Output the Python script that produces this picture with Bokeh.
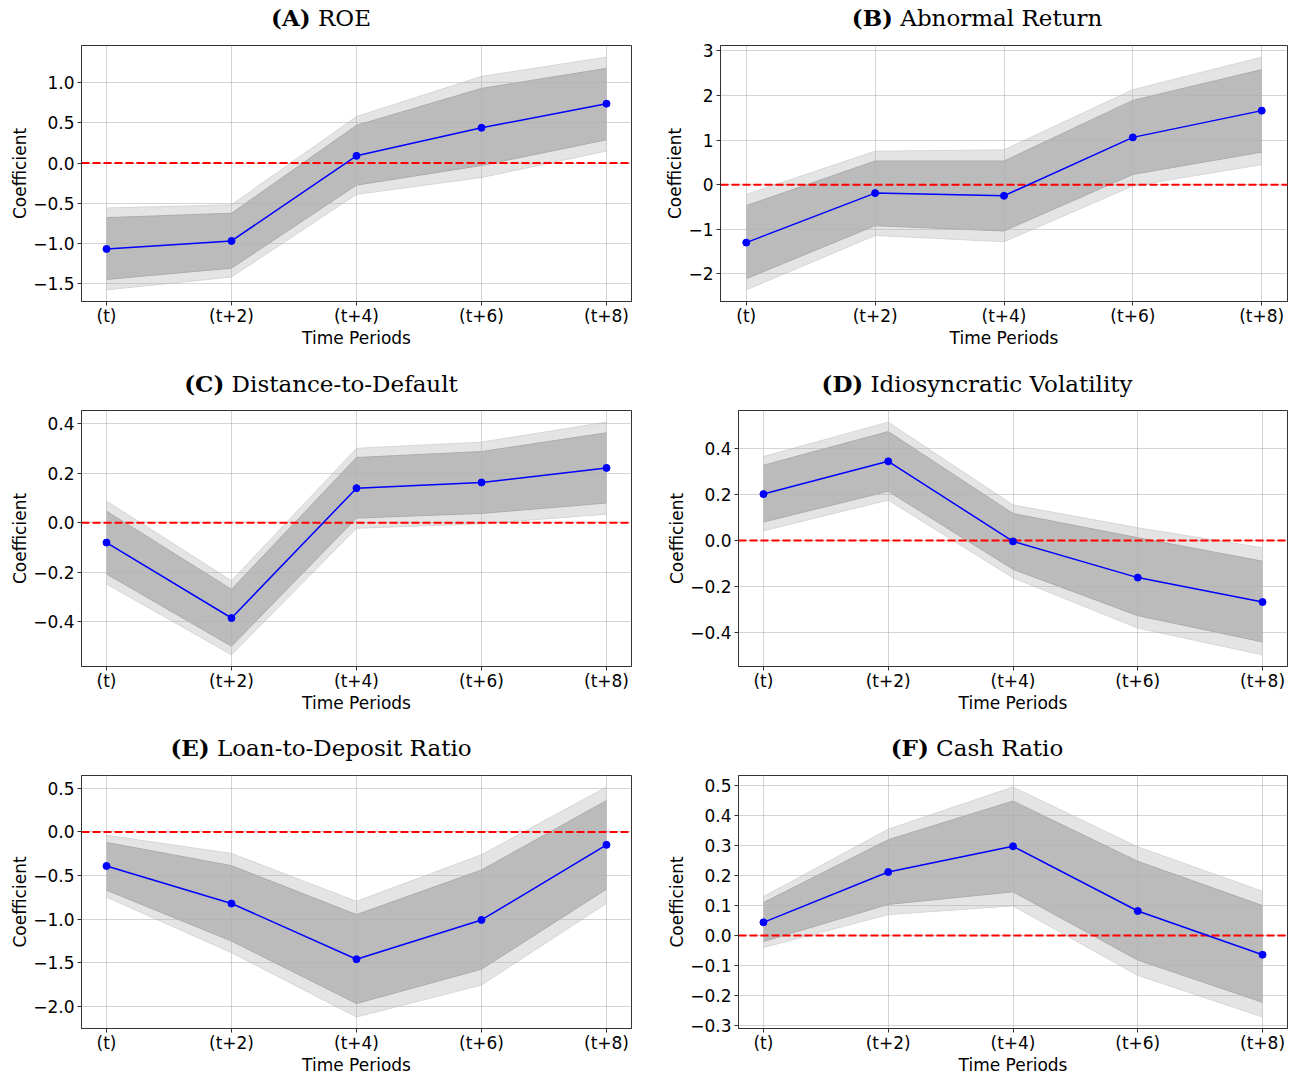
from bokeh.plotting import figure
from bokeh.models import Span, FixedTicker, CustomJSTickFormatter, Range1d, Div, Spacer
from bokeh.layouts import column, row
from bokeh.embed import file_html
from bokeh.resources import INLINE

periods = ["(t)", "(t+2)", "(t+4)", "(t+6)", "(t+8)"]

# (A) ROE
roe_coef = [-1.07, -0.97, 0.09, 0.44, 0.74]
roe_hi90 = [-0.68, -0.625, 0.47, 0.93, 1.18]
roe_lo90 = [-1.45, -1.31, -0.275, -0.03, 0.29]
roe_hi95 = [-0.56, -0.52, 0.58, 1.08, 1.32]
roe_lo95 = [-1.58, -1.42, -0.39, -0.18, 0.15]
roe_ticks = [-1.5, -1.0, -0.5, 0.0, 0.5, 1.0]

# (B) Abnormal Return
ar_coef = [-1.30, -0.19, -0.25, 1.06, 1.66]
ar_hi90 = [-0.47, 0.53, 0.53, 1.89, 2.58]
ar_lo90 = [-2.11, -0.92, -1.04, 0.23, 0.73]
ar_hi95 = [-0.22, 0.75, 0.78, 2.13, 2.86]
ar_lo95 = [-2.36, -1.14, -1.28, -0.03, 0.45]
ar_ticks = [-2, -1, 0, 1, 2, 3]

# (C) Distance-to-Default
dd_coef = [-0.08, -0.385, 0.14, 0.163, 0.222]
dd_hi90 = [0.047, -0.269, 0.264, 0.288, 0.364]
dd_lo90 = [-0.207, -0.499, 0.019, 0.038, 0.08]
dd_hi95 = [0.088, -0.234, 0.301, 0.326, 0.407]
dd_lo95 = [-0.247, -0.534, -0.022, -0.004, 0.035]
dd_ticks = [-0.4, -0.2, 0.0, 0.2, 0.4]

# (D) Idiosyncratic Volatility
iv_coef = [0.201, 0.343, -0.004, -0.161, -0.267]
iv_hi90 = [0.326, 0.472, 0.117, 0.012, -0.09]
iv_lo90 = [0.08, 0.213, -0.125, -0.326, -0.44]
iv_hi95 = [0.364, 0.513, 0.154, 0.055, -0.032]
iv_lo95 = [0.042, 0.175, -0.162, -0.38, -0.496]
iv_ticks = [-0.4, -0.2, 0.0, 0.2, 0.4]

# (E) Loan-to-Deposit Ratio
ld_coef = [-0.39, -0.82, -1.458, -1.008, -0.148]
ld_hi90 = [-0.12, -0.386, -0.947, -0.436, 0.36]
ld_lo90 = [-0.667, -1.25, -1.966, -1.572, -0.655]
ld_hi95 = [-0.038, -0.246, -0.795, -0.261, 0.515]
ld_lo95 = [-0.746, -1.383, -2.12, -1.754, -0.818]
ld_ticks = [-2.0, -1.5, -1.0, -0.5, 0.0, 0.5]

# (F) Cash Ratio
cr_coef = [0.044, 0.212, 0.298, 0.082, -0.064]
cr_hi90 = [0.11, 0.32, 0.449, 0.248, 0.10]
cr_lo90 = [-0.02, 0.104, 0.146, -0.082, -0.223]
cr_hi95 = [0.13, 0.355, 0.496, 0.296, 0.148]
cr_lo95 = [-0.04, 0.07, 0.099, -0.133, -0.272]
cr_ticks = [-0.3, -0.2, -0.1, 0.0, 0.1, 0.2, 0.3, 0.4, 0.5]

AX = "#333333"
LW, RW = 642, 654
TITLE_H = 36


def make_panel(coef, lo90, hi90, lo95, hi95, yticks, decimals, width, height, bl, br, bt, bb):
    x = list(range(len(periods)))
    lo = min(lo95)
    hi = max(hi95)
    pad = 0.05 * (hi - lo)
    p = figure(width=width, height=height, output_backend="svg", toolbar_location=None,
               x_range=Range1d(-0.2, len(periods) - 0.8), y_range=Range1d(lo - pad, hi + pad),
               min_border_left=bl, min_border_right=br, min_border_top=bt, min_border_bottom=bb,
               background_fill_color="white", border_fill_color="white")
    p.outline_line_color = AX
    p.outline_line_width = 1

    p.varea(x=x, y1=lo95, y2=hi95, fill_color="#e4e4e4", level="image")
    p.line(x=x, y=lo95, line_color="#d6d6d6", line_width=1, level="image")
    p.line(x=x, y=hi95, line_color="#d6d6d6", line_width=1, level="image")
    p.varea(x=x, y1=lo90, y2=hi90, fill_color="#bbbbbb", level="image")
    p.line(x=x, y=lo90, line_color="#acacac", line_width=1, level="image")
    p.line(x=x, y=hi90, line_color="#acacac", line_width=1, level="image")

    xt = FixedTicker(ticks=x)
    yt = FixedTicker(ticks=yticks)
    p.xaxis.ticker = xt
    p.yaxis.ticker = yt
    p.xgrid.ticker = xt
    p.ygrid.ticker = yt
    p.grid.grid_line_color = "#b0b0b0"
    p.grid.grid_line_alpha = 0.55
    p.grid.grid_line_width = 1

    p.xaxis.major_label_overrides = {i: lab for i, lab in enumerate(periods)}
    p.yaxis.formatter = CustomJSTickFormatter(
        code="return tick.toFixed(%d).replace('-', '\\u2212');" % decimals)

    p.axis.axis_line_color = AX
    p.axis.major_tick_line_color = AX
    p.axis.minor_tick_line_color = None
    p.axis.major_tick_out = 4
    p.axis.major_tick_in = 0
    p.yaxis.major_label_standoff = 3
    p.xaxis.major_label_standoff = 0
    p.axis.major_label_text_font = "DejaVu Sans"
    p.axis.major_label_text_font_size = "17px"
    p.axis.major_label_text_color = "black"
    p.axis.axis_label_text_font = "DejaVu Sans"
    p.axis.axis_label_text_font_size = "17px"
    p.axis.axis_label_text_font_style = "normal"
    p.axis.axis_label_text_color = "black"
    p.xaxis.axis_label = "Time Periods"
    p.xaxis.axis_label_standoff = -1
    p.yaxis.axis_label = "Coefficient"
    p.yaxis.axis_label_standoff = 0

    zero = Span(location=0, dimension="width", line_color="red", line_dash="8 3",
                line_width=2, level="underlay")
    p.add_layout(zero)

    p.line(x=x, y=coef, line_color="blue", line_width=1.5)
    p.scatter(x=x, y=coef, size=7, color="blue")
    return p


def title_div(letter, name, width):
    return Div(text="<b>(%s)</b> %s" % (letter, name), width=width, height=TITLE_H,
               styles={"font-family": "DejaVu Serif", "font-size": "23px",
                       "line-height": "%dpx" % TITLE_H, "text-align": "center",
                       "color": "black", "white-space": "nowrap", "margin": "0",
                       "padding": "0"})


def right_title(letter, name):
    return row(Spacer(width=16, height=TITLE_H), title_div(letter, name, RW - 16))


pA = make_panel(roe_coef, roe_lo90, roe_hi90, roe_lo95, roe_hi95, roe_ticks, 1, LW, 330, 81, 11, 9, 65)
pB = make_panel(ar_coef, ar_lo90, ar_hi90, ar_lo95, ar_hi95, ar_ticks, 0, RW, 330, 78, 9, 9, 65)
pC = make_panel(dd_coef, dd_lo90, dd_hi90, dd_lo95, dd_hi95, dd_ticks, 1, LW, 328, 81, 11, 8, 64)
pD = make_panel(iv_coef, iv_lo90, iv_hi90, iv_lo95, iv_hi95, iv_ticks, 1, RW, 328, 96, 9, 8, 64)
pE = make_panel(ld_coef, ld_lo90, ld_hi90, ld_lo95, ld_hi95, ld_ticks, 1, LW, 311, 81, 11, 9, 47)
pF = make_panel(cr_coef, cr_lo90, cr_hi90, cr_lo95, cr_hi95, cr_ticks, 1, RW, 311, 96, 9, 9, 47)

layout = column(
    row(column(title_div("A", "ROE", LW), pA), column(right_title("B", "Abnormal Return"), pB)),
    row(column(title_div("C", "Distance-to-Default", LW), pC),
        column(right_title("D", "Idiosyncratic Volatility"), pD)),
    row(column(title_div("E", "Loan-to-Deposit Ratio", LW), pE),
        column(right_title("F", "Cash Ratio"), pF)),
)

open("out.html", "w").write(file_html(layout, INLINE))
